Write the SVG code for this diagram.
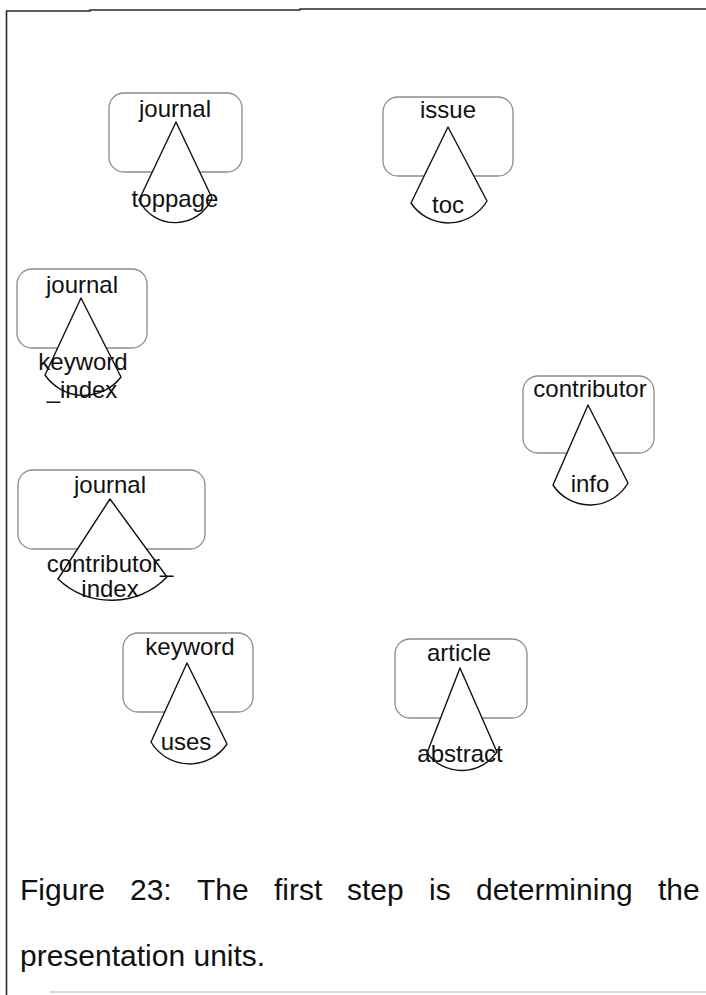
<svg xmlns="http://www.w3.org/2000/svg" width="706" height="995" viewBox="0 0 706 995">
  <style>
    .frame { fill: none; stroke: #2a2a2a; stroke-width: 1.6; }
    .frame-faint { fill: none; stroke: #b5b5b5; stroke-width: 1.2; }
    .unit { fill: none; stroke: #8c8c8c; stroke-width: 1.3; }
    .cone { fill: #ffffff; stroke: #111111; stroke-width: 1.4; stroke-linejoin: round; }
    .lbl { font-family: "Liberation Sans", Arial, sans-serif; font-size: 24px; fill: #111111; text-anchor: middle; }
    .cap { font-family: "Liberation Sans", Arial, sans-serif; font-size: 30px; fill: #111111; }
  </style>
  <rect width="706" height="995" fill="#ffffff"/>

  <!-- page frame -->
  <g id="frame">
    <polyline class="frame" points="6.5,995 6.5,11 90,11 90,10 300,10 300,9 706,9"/>
    <line class="frame-faint" x1="50" y1="992" x2="706" y2="992"/>
  </g>

  <!-- presentation units: rounded context box with a cone for the unit -->
  <g id="unit-journal-toppage">
    <rect class="unit" x="109" y="93" width="133" height="79" rx="15"/>
    <path class="cone" d="M176,122 L139,200 A40,40 0 0 0 212,198 Z"/>
    <text class="lbl" x="175" y="117">journal</text>
    <text class="lbl" x="175" y="207">toppage</text>
  </g>

  <g id="unit-issue-toc">
    <rect class="unit" x="383" y="97" width="130" height="79" rx="15"/>
    <path class="cone" d="M448,127 L411,203 A45,45 0 0 0 487,201 Z"/>
    <text class="lbl" x="448" y="118">issue</text>
    <text class="lbl" x="448" y="213">toc</text>
  </g>

  <g id="unit-journal-keyword-index">
    <rect class="unit" x="17" y="269" width="130" height="79" rx="15"/>
    <path class="cone" d="M81,298 L45,375 A47,47 0 0 0 121,377 Z"/>
    <text class="lbl" x="82" y="293">journal</text>
    <text class="lbl" x="83" y="370">keyword</text>
    <text class="lbl" x="82" y="398">_index</text>
  </g>

  <g id="unit-contributor-info">
    <rect class="unit" x="523" y="376" width="131" height="77" rx="15"/>
    <path class="cone" d="M588,405 L553,485 A44,44 0 0 0 628,483 Z"/>
    <text class="lbl" x="590" y="397">contributor</text>
    <text class="lbl" x="590" y="492">info</text>
  </g>

  <g id="unit-journal-contributor-index">
    <rect class="unit" x="18" y="470" width="187" height="79" rx="15"/>
    <path class="cone" d="M110,499 L58,579 A78,78 0 0 0 167,577 Z"/>
    <text class="lbl" x="110" y="493">journal</text>
    <text class="lbl" x="110" y="572">contributor_</text>
    <text class="lbl" x="110" y="597">index</text>
  </g>

  <g id="unit-keyword-uses">
    <rect class="unit" x="123" y="633" width="130" height="79" rx="15"/>
    <path class="cone" d="M187,663 L151,742 A45,45 0 0 0 227,744 Z"/>
    <text class="lbl" x="190" y="655">keyword</text>
    <text class="lbl" x="186" y="750">uses</text>
  </g>

  <g id="unit-article-abstract">
    <rect class="unit" x="395" y="639" width="132" height="79" rx="15"/>
    <path class="cone" d="M460,668 L427,753 A43,43 0 0 0 497,752 Z"/>
    <text class="lbl" x="459" y="661">article</text>
    <text class="lbl" x="460" y="762">abstract</text>
  </g>

  <g id="connectors"/>

  <!-- caption, justified on the first line -->
  <g id="caption">
    <text class="cap" y="900"><tspan x="20">Figure</tspan><tspan x="130">23:</tspan><tspan x="197">The</tspan><tspan x="274">first</tspan><tspan x="347">step</tspan><tspan x="429">is</tspan><tspan x="476">determining</tspan><tspan x="658">the</tspan></text>
    <text class="cap" x="20" y="966">presentation units.</text>
  </g>
</svg>
